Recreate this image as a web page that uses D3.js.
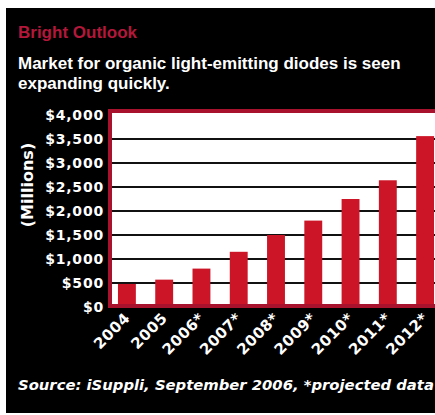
<!DOCTYPE html>
<html>
<head>
<meta charset="utf-8">
<script src="https://cdn.jsdelivr.net/npm/d3@7"></script>
<style>
  html, body { margin: 0; padding: 0; background: #fff; }
  svg { display: block; }
  text { font-family: "Liberation Sans", Arial, sans-serif; }
</style>
</head>
<body>
<div id="chart"></div>
<script>
// OLED market chart — iSuppli, Sept 2006

const years  = ["2004", "2005", "2006*", "2007*", "2008*", "2009*", "2010*", "2011*", "2012*"];
const values = [480, 570, 800, 1150, 1500, 1800, 2250, 2640, 3560];
const yTicks = [0, 500, 1000, 1500, 2000, 2500, 3000, 3500, 4000];

const width = 435;
const height = 415;
const dejavu = "'DejaVu Sans', sans-serif";

const svg = d3.select("#chart")
  .append("svg")
  .attr("width", width)
  .attr("height", height);

// fond noir
svg.append("rect")
  .attr("x", 6).attr("y", 8)
  .attr("width", width - 6).attr("height", 405)
  .attr("fill", "#000");

// titres
svg.append("text")
  .attr("x", 18).attr("y", 38)
  .style("font-size", "17px")
  .style("font-weight", "bold")
  .style("fill", "#b3173a")
  .text("Bright Outlook");

svg.append("text")
  .attr("x", 18).attr("y", 69)
  .style("font-size", "17px")
  .style("font-weight", "bold")
  .style("fill", "#fff")
  .text("Market for organic light-emitting diodes is seen");

svg.append("text")
  .attr("x", 18).attr("y", 89)
  .style("font-size", "17px")
  .style("font-weight", "bold")
  .style("fill", "#fff")
  .text("expanding quickly.");

// zone du graphique
const plotLeft = 110, plotTop = 111, plotBottom = 307, plotRight = 440;

const x = d3.scaleBand()
  .domain(years)
  .range([plotLeft + 2, plotRight])
  .paddingInner(0.52)
  .paddingOuter(0.16);

const y = d3.scaleLinear()
  .domain([0, 4000])
  .range([plotBottom, 115]);

svg.append("rect")
  .attr("x", plotLeft).attr("y", plotTop)
  .attr("width", width - plotLeft).attr("height", plotBottom - plotTop)
  .attr("fill", "#fff");

// grille
svg.append("g")
  .selectAll("line")
  .data(yTicks.filter(d => d > 0 && d < 4000))
  .join("line")
  .attr("x1", plotLeft).attr("x2", width)
  .attr("y1", d => y(d)).attr("y2", d => y(d))
  .attr("stroke", "#111")
  .attr("stroke-width", 2);

// barres
svg.append("g")
  .selectAll("rect")
  .data(values)
  .join("rect")
  .attr("x", (d, i) => x(years[i]))
  .attr("y", d => y(d))
  .attr("width", x.bandwidth())
  .attr("height", d => plotBottom - y(d))
  .attr("fill", "#cc1526");

// cadre rouge (gauche, haut, bas)
svg.append("path")
  .attr("d", `M${width},${plotTop} H${plotLeft} V${plotBottom - 1} H${width}`)
  .attr("fill", "none")
  .attr("stroke", "#a8122c")
  .attr("stroke-width", 4);

// axe Y
svg.append("g")
  .selectAll("text")
  .data(yTicks)
  .join("text")
  .attr("x", 104)
  .attr("y", d => y(d))
  .attr("dy", "0.36em")
  .attr("text-anchor", "end")
  .style("font-family", dejavu)
  .style("font-size", "14px")
  .style("font-weight", "bold")
  .style("letter-spacing", "0.8px")
  .style("fill", "#fff")
  .text(d => "$" + d3.format(",")(d));

svg.append("text")
  .attr("transform", "translate(33,185) rotate(-90)")
  .attr("text-anchor", "middle")
  .style("font-family", dejavu)
  .style("font-size", "16px")
  .style("font-weight", "bold")
  .style("fill", "#fff")
  .text("(Millions)");

// axe X
svg.append("g")
  .selectAll("text")
  .data(years)
  .join("text")
  .attr("transform", d => `translate(${x(d) + x.bandwidth() / 2 + 4},${plotBottom + 12}) rotate(-45)`)
  .attr("text-anchor", "end")
  .style("font-family", dejavu)
  .style("font-size", "15px")
  .style("font-weight", "bold")
  .style("letter-spacing", "0.5px")
  .style("fill", "#fff")
  .text(d => d);

// source
svg.append("text")
  .attr("x", 18).attr("y", 390)
  .style("font-family", dejavu)
  .style("font-size", "14.8px")
  .style("font-weight", "bold")
  .style("font-style", "italic")
  .style("fill", "#fff")
  .text("Source: iSuppli, September 2006, *projected data");
</script>
</body>
</html>
